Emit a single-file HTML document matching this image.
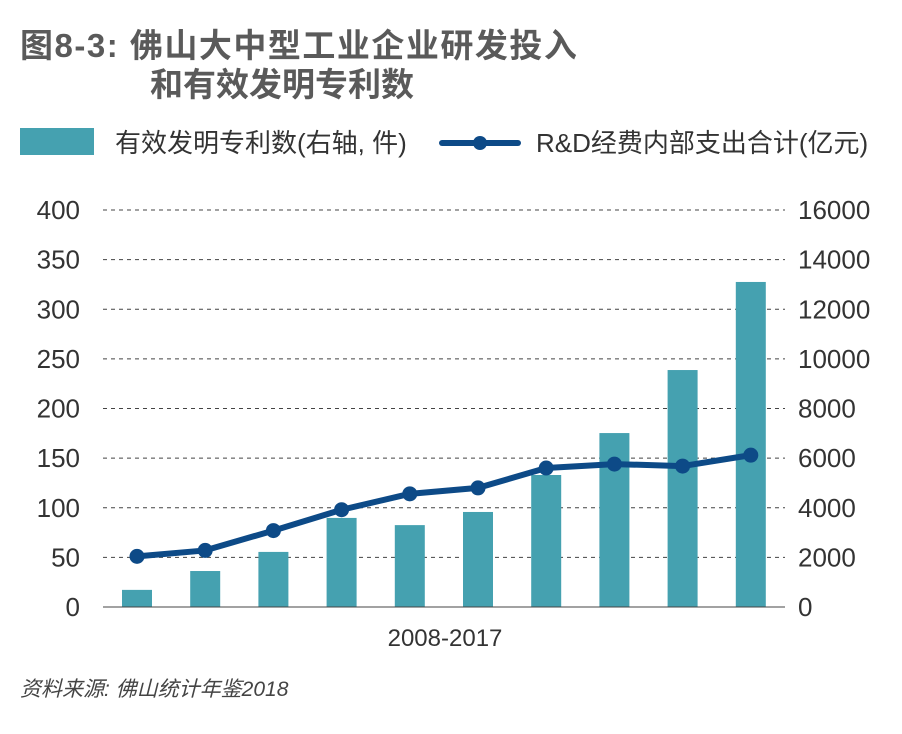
<!DOCTYPE html>
<html><head><meta charset="utf-8"><style>
body{margin:0;background:#fff;}
svg text{font-family:"Liberation Sans","Noto Sans CJK SC",sans-serif;}
</style></head><body>
<svg width="902" height="729" viewBox="0 0 902 729">
<text x="20" y="57" font-size="33" font-weight="bold" fill="#5a5a5a" letter-spacing="1.5">图8-3: 佛山大中型工业企业研发投入</text>
<text x="150" y="96" font-size="33" font-weight="bold" fill="#5a5a5a">和有效发明专利数</text>
<rect x="20" y="128" width="74" height="27" fill="#45a1b0"/>
<text x="115" y="152" font-size="26" fill="#333">有效发明专利数(右轴, 件)</text>
<line x1="442" y1="143" x2="518" y2="143" stroke="#0d4a87" stroke-width="6" stroke-linecap="round"/>
<circle cx="480" cy="143" r="7" fill="#0d4a87"/>
<text x="536" y="152" font-size="26" fill="#333">R&amp;D经费内部支出合计(亿元)</text>
<g id="grid"></g><g id="bars"></g><g id="line"></g><g id="axes"></g>
<text x="445" y="646" font-size="24" fill="#333" text-anchor="middle">2008-2017</text>
<text x="20" y="696" font-size="21" font-style="italic" fill="#444">资料来源: 佛山统计年鉴2018</text>
</svg>
<script>
const years=["2008","2009","2010","2011","2012","2013","2014","2015","2016","2017"];
const patents=[690,1450,2220,3590,3300,3830,5320,7010,9550,13100];
const rnd=[51,57,77,98,114,120,140,144,142,153];
const leftTicks=[0,50,100,150,200,250,300,350,400];
const rightTicks=[0,2000,4000,6000,8000,10000,12000,14000,16000];
const NS="http://www.w3.org/2000/svg";
const y0=607,y1=210,xL=103,xR=785;
const yL=v=>y0-(v/400)*(y0-y1);
const yR=v=>y0-(v/16000)*(y0-y1);
const step=68.2,x0=137;
const xs=i=>x0+i*step;
function mk(t,a,p){const e=document.createElementNS(NS,t);for(const k in a)e.setAttribute(k,a[k]);document.getElementById(p).appendChild(e);return e;}
leftTicks.forEach((v,i)=>{
  if(v>0){const g=mk('line',{x1:xL,x2:xR,y1:yL(v),y2:yL(v),stroke:'#444','stroke-width':1,'stroke-dasharray':'4,4'},'grid');
  
  }
  const t=mk('text',{x:80,y:yL(v)+9,'font-size':26,fill:'#333','text-anchor':'end'},'axes');t.textContent=v;
  
  
});
rightTicks.forEach(v=>{
  const t=mk('text',{x:798,y:yR(v)+9,'font-size':26,fill:'#333'},'axes');t.textContent=v;
  
  
});
const base=mk('line',{x1:xL,x2:xR,y1:y0,y2:y0,stroke:'#444','stroke-width':1},'axes');


patents.forEach((v,i)=>{
  const r=mk('rect',{x:xs(i)-15,y:yR(v),width:30,height:y0-yR(v),fill:'#45a1b0'},'bars');
  
  
});
const pl=mk('polyline',{points:rnd.map((v,i)=>xs(i)+','+yL(v)).join(' '),fill:'none',stroke:'#0d4a87','stroke-width':6,'stroke-linejoin':'round'},'line');


rnd.forEach((v,i)=>{
  const c=mk('circle',{cx:xs(i),cy:yL(v),r:7.5,fill:'#0d4a87'},'line');
  
  
});
</script>
</body></html>
